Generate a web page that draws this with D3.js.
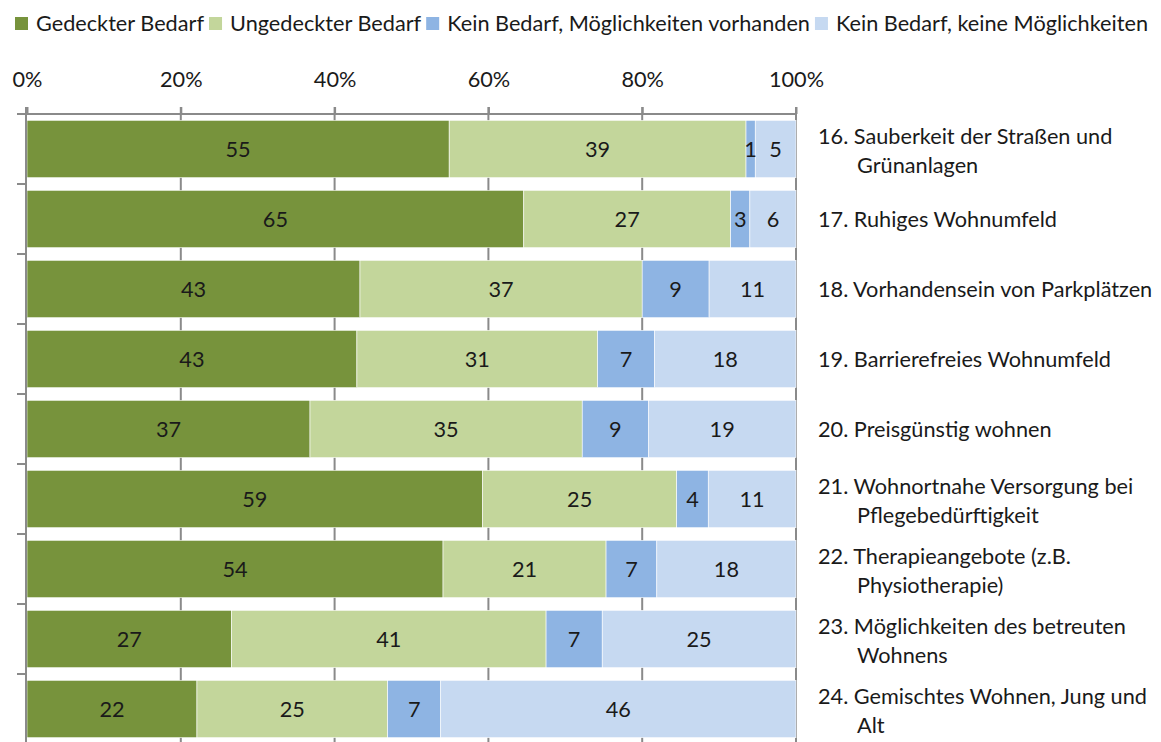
<!DOCTYPE html>
<html><head><meta charset="utf-8">
<script src="https://cdn.jsdelivr.net/npm/d3@7"></script>
<style>
html,body{margin:0;padding:0;background:#fff;}
svg text{font-family:Lato, "Open Sans", sans-serif;fill:#1a1a1a;}
</style></head>
<body><svg id="chart" width="1161" height="742"></svg>
<script>
const seriesNames = ["Gedeckter Bedarf","Ungedeckter Bedarf","Kein Bedarf, Möglichkeiten vorhanden","Kein Bedarf, keine Möglichkeiten"];
const seriesColors = ["#77933C","#C3D69B","#8EB4E3","#C6D9F1"];
const categories = [
  ["16. Sauberkeit der Straßen und","Grünanlagen"],
  ["17. Ruhiges Wohnumfeld"],
  ["18. Vorhandensein von Parkplätzen"],
  ["19. Barrierefreies Wohnumfeld"],
  ["20. Preisgünstig wohnen"],
  ["21. Wohnortnahe Versorgung bei","Pflegebedürftigkeit"],
  ["22. Therapieangebote (z.B.","Physiotherapie)"],
  ["23. Möglichkeiten des betreuten","Wohnens"],
  ["24. Gemischtes Wohnen, Jung und","Alt"]
];
const gedeckt    = [54.9, 64.6, 43.3, 42.9, 36.8, 59.2, 54.1, 26.6, 22.1];
const ungedeckt  = [38.6, 26.9, 36.7, 31.3, 35.4, 25.2, 21.2, 40.9, 24.8];
const keinMoegl  = [1.2, 2.5, 8.7, 7.4, 8.6, 4.1, 6.6, 7.3, 6.9];
const keinKeine  = [5.3, 6.0, 11.3, 18.4, 19.2, 11.4, 18.1, 25.2, 46.2];
const tickValues = [0, 0.2, 0.4, 0.6, 0.8, 1];

const svg = d3.select("#chart");
const FS = 21.7;
const x = d3.scaleLinear().domain([0,1]).range([27,796]);
const y = d3.scaleBand().domain(d3.range(categories.length)).range([114,744]).paddingInner(0.18).paddingOuter(0.09);

const rows = categories.map((c,i)=>({i, s0:gedeckt[i], s1:ungedeckt[i], s2:keinMoegl[i], s3:keinKeine[i]}));
const keys = ["s0","s1","s2","s3"];
const stacked = d3.stack().keys(keys).offset(d3.stackOffsetExpand)(rows);

const gridColor = "#8a8a8a";
// gridlines
svg.append("g").selectAll("line").data(tickValues.slice(1)).join("line")
  .attr("x1",d=>x(d)).attr("x2",d=>x(d)).attr("y1",107).attr("y2",742)
  .attr("stroke",gridColor).attr("stroke-width",2);

// bars
const gBars = svg.append("g");
stacked.forEach((layer,k)=>{
  gBars.append("g").selectAll("rect").data(layer).join("rect")
    .attr("x",d=>x(d[0])).attr("width",d=>x(d[1])-x(d[0]))
    .attr("y",(d,i)=>y(i)).attr("height",y.bandwidth())
    .attr("fill",seriesColors[k]).attr("stroke","#fff").attr("stroke-width",0.6);
});
// value labels
stacked.forEach((layer,k)=>{
  gBars.append("g").selectAll("text").data(layer).join("text")
    .attr("x",d=>(x(d[0])+x(d[1]))/2).attr("y",(d,i)=>y(i)+y.bandwidth()/2)
    .attr("text-anchor","middle").attr("dominant-baseline","central")
    .attr("font-size",FS)
    .text(d=>Math.round(d.data[keys[k]]));
});

// top axis
const axTop = svg.append("g").attr("transform","translate(0,114)")
  .call(d3.axisTop(x).tickValues(tickValues).tickFormat(d3.format(".0%")).tickSize(7).tickPadding(20));
axTop.select(".domain").attr("stroke",gridColor).attr("stroke-width",2).attr("d","M17,0H796");
axTop.selectAll(".tick line").attr("stroke",gridColor).attr("stroke-width",2);
axTop.selectAll(".tick text").attr("font-size",FS).attr("font-family","Lato, sans-serif").attr("fill","#1a1a1a");

// left axis
const leftAx = svg.append("g");
leftAx.append("line").attr("x1",26).attr("x2",26).attr("y1",107).attr("y2",742).attr("stroke",gridColor).attr("stroke-width",2);
leftAx.selectAll("line.t").data(d3.range(categories.length)).join("line").attr("class","t")
  .attr("x1",17).attr("x2",26).attr("y1",d=>y(d)-y.step()*0.09).attr("y2",d=>y(d)-y.step()*0.09)
  .attr("stroke",gridColor).attr("stroke-width",2);

// category labels
const gCat = svg.append("g");
categories.forEach((lines,i)=>{
  const cy = y(i)+y.bandwidth()/2 + (lines.length>1?1:0);
  const lh = 29;
  const t = gCat.append("text").attr("font-size",FS).attr("dominant-baseline","central");
  lines.forEach((ln,j)=>{
    t.append("tspan").attr("x", j===0?818:857)
     .attr("y", cy + (j-(lines.length-1)/2)*lh).text(ln);
  });
});

// legend
const gLeg = svg.append("g");
let lx = 15;
seriesNames.forEach((n,k)=>{
  gLeg.append("rect").attr("x",lx).attr("y",17).attr("width",13).attr("height",13).attr("fill",seriesColors[k]);
  const t = gLeg.append("text").attr("x",lx+21).attr("y",23).attr("dominant-baseline","central").attr("font-size",FS).text(n);
  lx += 21 + t.node().getComputedTextLength() + 5;
});
</script></body></html>
